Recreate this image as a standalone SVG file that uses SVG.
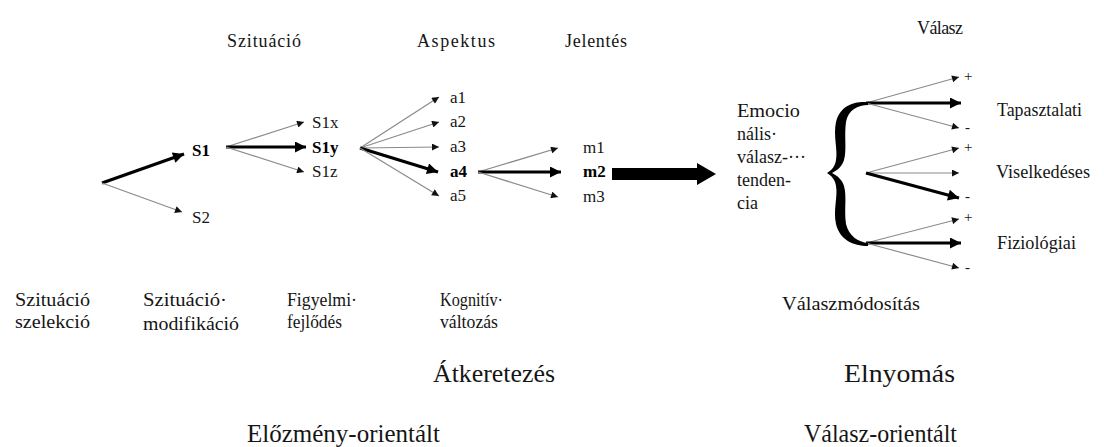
<svg xmlns="http://www.w3.org/2000/svg" width="1104" height="447" viewBox="0 0 1104 447" font-family="'Liberation Serif', 'DejaVu Serif', serif">
  <defs>
    <marker id="headThin" viewBox="0 0 10 10" refX="10" refY="5" markerWidth="8" markerHeight="7" markerUnits="userSpaceOnUse" orient="auto">
      <path d="M0,0 L10,5 L0,10 z" fill="#111"/>
    </marker>
    <marker id="headThick" viewBox="0 0 10 10" refX="10" refY="5" markerWidth="14" markerHeight="11" markerUnits="userSpaceOnUse" orient="auto">
      <path d="M0,0 L10,5 L0,10 z" fill="#000"/>
    </marker>
    <style>
      text { fill: #151515; }
      .sm { font-size: 18px; }
      .nd { font-size: 17px; }
      .b { font-weight: bold; fill: #000; }
      .lg { font-size: 25px; }
      .sign { font-size: 15px; }
      .thin { stroke: #8a8a8a; stroke-width: 1.2; fill: none; marker-end: url(#headThin); }
      .thick { stroke: #000; stroke-width: 3.2; fill: none; marker-end: url(#headThick); }
    </style>
  </defs>

  <!-- column headers -->
  <g id="headers">
    <text class="sm" x="227" y="47" textLength="74" lengthAdjust="spacing">Szituáció</text>
    <text class="sm" x="417" y="47" textLength="78" lengthAdjust="spacing">Aspektus</text>
    <text class="sm" x="565" y="47" textLength="62" lengthAdjust="spacing">Jelentés</text>
    <text class="sm" x="917" y="34" textLength="46" lengthAdjust="spacing">Válasz</text>
  </g>

  <!-- connectors -->
  <g id="connectors">
    <line class="thick" x1="102" y1="183" x2="184" y2="154"/>
    <line class="thin" x1="102" y1="183" x2="182" y2="212"/>

    <line class="thin" x1="226" y1="147" x2="304" y2="122"/>
    <line class="thick" x1="226" y1="147" x2="306" y2="147"/>
    <line class="thin" x1="226" y1="147" x2="304" y2="172"/>

    <line class="thin" x1="360" y1="148" x2="439" y2="97"/>
    <line class="thin" x1="360" y1="148" x2="439" y2="122"/>
    <line class="thin" x1="360" y1="148" x2="439" y2="147"/>
    <line class="thick" x1="360" y1="148" x2="438" y2="172"/>
    <line class="thin" x1="360" y1="148" x2="439" y2="196"/>

    <line class="thin" x1="478" y1="172" x2="558" y2="148"/>
    <line class="thick" x1="478" y1="172" x2="561" y2="172"/>
    <line class="thin" x1="478" y1="172" x2="558" y2="197"/>

    <!-- block arrow toward the response tendency -->
    <path d="M612,168 L697,168 L697,163 L716,174 L697,185 L697,180 L612,180 z" fill="#000"/>

    <!-- experiential -->
    <line class="thin" x1="866" y1="103" x2="959" y2="77"/>
    <line class="thick" x1="866" y1="103" x2="961" y2="103"/>
    <line class="thin" x1="866" y1="103" x2="959" y2="128"/>
    <!-- behavioural -->
    <line class="thin" x1="866" y1="173" x2="959" y2="148"/>
    <line class="thin" x1="866" y1="173" x2="959" y2="173"/>
    <line class="thick" x1="866" y1="173" x2="959" y2="198"/>
    <!-- physiological -->
    <line class="thin" x1="866" y1="243" x2="959" y2="219"/>
    <line class="thick" x1="866" y1="243" x2="961" y2="243"/>
    <line class="thin" x1="866" y1="243" x2="959" y2="268"/>
  </g>

  <!-- situation nodes -->
  <g id="node-s1"><text class="nd b" x="192" y="156">S1</text></g>
  <g id="node-s2"><text class="nd" x="192" y="223">S2</text></g>
  <g id="node-s1x"><text class="nd" x="312" y="128">S1x</text></g>
  <g id="node-s1y"><text class="nd b" x="312" y="153">S1y</text></g>
  <g id="node-s1z"><text class="nd" x="312" y="177">S1z</text></g>

  <!-- aspect nodes -->
  <g id="node-a1"><text class="nd" x="450" y="103">a1</text></g>
  <g id="node-a2"><text class="nd" x="450" y="127">a2</text></g>
  <g id="node-a3"><text class="nd" x="450" y="152">a3</text></g>
  <g id="node-a4"><text class="nd b" x="450" y="177">a4</text></g>
  <g id="node-a5"><text class="nd" x="450" y="201">a5</text></g>

  <!-- meaning nodes -->
  <g id="node-m1"><text class="nd" x="583" y="153">m1</text></g>
  <g id="node-m2"><text class="nd b" x="583" y="177">m2</text></g>
  <g id="node-m3"><text class="nd" x="583" y="202">m3</text></g>

  <!-- emotional response tendency -->
  <g id="node-tendency">
    <text class="sm" x="737" y="117" textLength="63" lengthAdjust="spacingAndGlyphs">Emocio</text>
    <text class="sm" x="737" y="140">nális·</text>
    <text class="sm" x="737" y="163">válasz-···</text>
    <text class="sm" x="737" y="186">tenden-</text>
    <text class="sm" x="737" y="209">cia</text>
  </g>

  <!-- brace -->
  <g id="brace">
    <path d="M868,102 C853,101 840,106 836,122 C833,136 838,150 836,160 C835,166 832,170 827,173 C832,176 835,180 836,186 C838,196 833,210 836,224 C840,240 853,246 868,246 L868,243 C858,242 849,236 846,224 C844,210 847,196 844,186 C842,180 838,176 832,173 C838,170 842,166 844,160 C847,150 844,136 846,122 C848,110 858,105 868,105 z" fill="#000"/>
  </g>

  <!-- response channels -->
  <g id="node-experiential">
    <text class="sign" x="964" y="81">+</text>
    <text class="sm" x="997" y="116" textLength="85" lengthAdjust="spacingAndGlyphs">Tapasztalati</text>
    <text class="sign" x="965" y="132">-</text>
  </g>
  <g id="node-behavioural">
    <text class="sign" x="964" y="152">+</text>
    <text class="sm" x="996" y="178" textLength="94" lengthAdjust="spacingAndGlyphs">Viselkedéses</text>
    <text class="sign" x="965" y="201">-</text>
  </g>
  <g id="node-physiological">
    <text class="sign" x="964" y="222">+</text>
    <text class="sm" x="997" y="249" textLength="79" lengthAdjust="spacingAndGlyphs">Fiziológiai</text>
    <text class="sign" x="965" y="272">-</text>
  </g>

  <!-- regulation strategies -->
  <g id="strategies">
    <text class="sm" x="15" y="306" textLength="75" lengthAdjust="spacingAndGlyphs">Szituáció</text>
    <text class="sm" x="15" y="328" textLength="75" lengthAdjust="spacingAndGlyphs">szelekció</text>
    <text class="sm" x="143" y="306" textLength="84" lengthAdjust="spacingAndGlyphs">Szituáció·</text>
    <text class="sm" x="143" y="330" textLength="96" lengthAdjust="spacingAndGlyphs">modifikáció</text>
    <text class="sm" x="287" y="306" textLength="70" lengthAdjust="spacingAndGlyphs">Figyelmi·</text>
    <text class="sm" x="287" y="328" textLength="55" lengthAdjust="spacingAndGlyphs">fejlődés</text>
    <text class="sm" x="440" y="306" textLength="63" lengthAdjust="spacingAndGlyphs">Kognitív·</text>
    <text class="sm" x="440" y="328" textLength="58" lengthAdjust="spacingAndGlyphs">változás</text>
    <text class="sm" x="782" y="310" textLength="138" lengthAdjust="spacingAndGlyphs">Válaszmódosítás</text>
    <text class="lg" x="433" y="382" textLength="122" lengthAdjust="spacingAndGlyphs">Átkeretezés</text>
    <text class="lg" x="844" y="382" textLength="111" lengthAdjust="spacingAndGlyphs">Elnyomás</text>
  </g>

  <!-- orientation labels -->
  <g id="orientations">
    <text class="lg" x="247" y="442" textLength="193" lengthAdjust="spacingAndGlyphs">Előzmény-orientált</text>
    <text class="lg" x="804" y="442" textLength="153" lengthAdjust="spacingAndGlyphs">Válasz-orientált</text>
  </g>
</svg>
